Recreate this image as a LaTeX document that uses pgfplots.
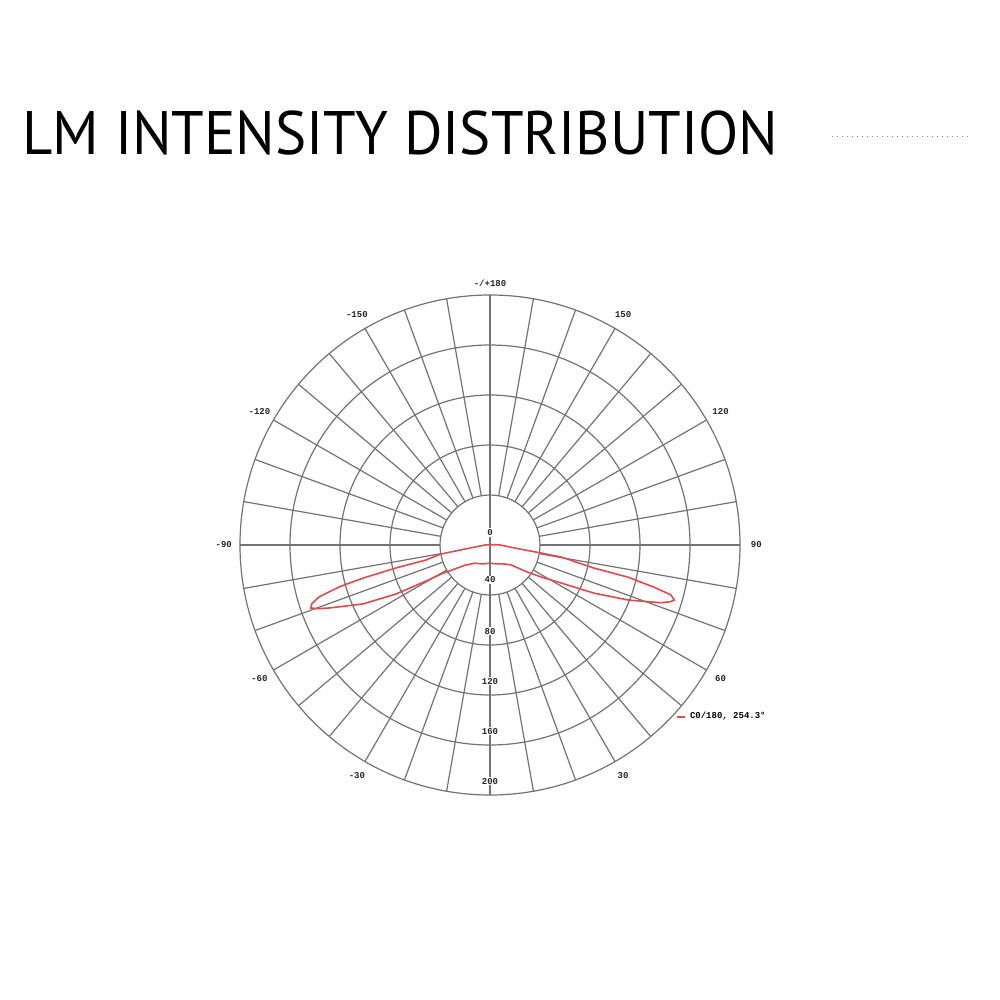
\documentclass[border=0pt]{standalone}
\usepackage{fontspec}
\setmainfont{PT Sans}
\newfontfamily\lblfont{Liberation Mono}
\usepackage{pgfplots}
\pgfplotsset{compat=1.18}
\usepgfplotslibrary{polar}
\usepackage{pgfplotstable}
\definecolor{curvered}{RGB}{225,75,80}
\definecolor{gridgray}{RGB}{115,115,115}

% gamma (deg, 0 = straight down), intensity (cd/klm)
\pgfplotstableread{
g r
-180 0
-110 0
-100 1
-95 2
-90 4
-80.9 20
-79.6 40
-76.8 53
-76.3 77
-75.4 105
-74.5 125
-73.1 143
-71.8 150
-70.6 152
-69.6 146
-68.6 138
-65.1 112
-62.5 85
-60.6 59
-59.4 46
-51.3 26
-40 19
-28.4 17
-15 15.5
0 14.5
15 15.5
28.4 17
40 20
46.4 23
53.4 35
57.9 48
61.8 64
65.2 92
68.3 119
71.3 144
72.5 151
73.4 154
74.6 150
75.6 135
76.9 113
77.5 85
80.4 58
81.1 41
82.4 24
90 8
95 3
100 1
110 0
180 0
}\lmcurve

\tikzset{lbl/.style={font=\lblfont\bfseries\fontsize{4.5}{5}\selectfont, text=black!85}}

\begin{document}
\begin{tikzpicture}
\useasboundingbox[fill=white] (0,0) rectangle (500pt,-500pt);
\node[anchor=base west, inner sep=0, xscale=0.958, font=\fontsize{30.7}{32}\selectfont] at (11pt,-77.5pt) {LM INTENSITY DISTRIBUTION};
\draw[gray, dotted, line width=0.5pt] (416pt,-68.5pt) -- (484pt,-68.5pt);
\begin{polaraxis}[
  at={(245pt,-272.5pt)}, anchor=origin,
  scale only axis, width=250pt, height=250pt,
  xmin=0, xmax=360, ymin=0, ymax=200,
  clip=false,
  axis line style={draw=none},
  xtick=\empty,
  ytick={40,80,120,160,200},
  yticklabels={},
  major tick length=0pt,
  ymajorgrids,
  grid style={gridgray, line width=0.6pt},
  legend style={at={(0.872,0.156)}, anchor=west, draw=none, fill=none,
    font=\lblfont\bfseries\fontsize{4.5}{5}\selectfont, inner sep=0pt},
  legend image code/.code={\draw[#1] (0pt,0pt) -- (4pt,0pt);},
]
\pgfplotsinvokeforeach{0,10,...,350}{
  \draw[gridgray, line width=0.6pt] (axis cs:#1,40) -- (axis cs:#1,200);
}
\draw[gridgray, line width=0.6pt] (axis cs:90,200) -- (axis cs:270,200);
\addplot[curvered, line width=0.8pt] table[x expr=\thisrow{g}+270, y=r] {\lmcurve};
\addlegendentry{C0/180, 254.3°}
% angle labels
\node[lbl] at (axis cs:90,209) {-/+180};
\node[lbl] at (axis cs:120,213) {-150};
\node[lbl] at (axis cs:60,213) {150};
\node[lbl] at (axis cs:150,213) {-120};
\node[lbl] at (axis cs:30,213) {120};
\node[lbl] at (axis cs:180,213) {-90};
\node[lbl] at (axis cs:0,213) {90};
\node[lbl] at (axis cs:210,213) {-60};
\node[lbl] at (axis cs:330,213) {60};
\node[lbl] at (axis cs:240,213) {-30};
\node[lbl] at (axis cs:300,213) {30};
% intensity labels
\node[lbl, fill=white, inner sep=0.5pt] at (axis cs:90,10) {0};
\node[lbl, fill=white, inner sep=0.5pt] at (axis cs:270,28) {40};
\node[lbl, fill=white, inner sep=0.5pt] at (axis cs:270,69) {80};
\node[lbl, fill=white, inner sep=0.5pt] at (axis cs:270,109) {120};
\node[lbl, fill=white, inner sep=0.5pt] at (axis cs:270,149) {160};
\node[lbl, fill=white, inner sep=0.5pt] at (axis cs:270,189) {200};
\end{polaraxis}
\end{tikzpicture}
\end{document}
